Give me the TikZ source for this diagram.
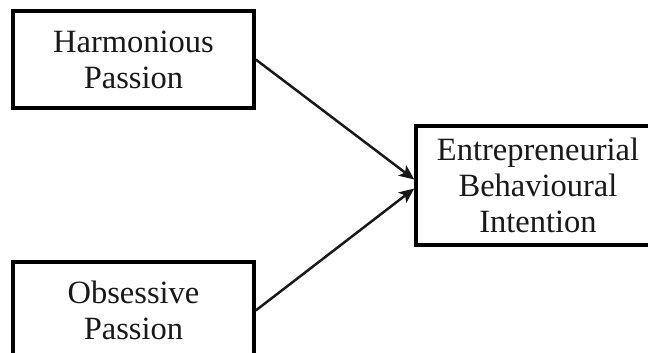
\documentclass[tikz,border=0pt]{standalone}
\usepackage{fontspec}
\setmainfont{Liberation Serif}
\usetikzlibrary{arrows.meta,calc}
\begin{document}
\begin{tikzpicture}[x=1pt,y=-1pt,
 box/.style={draw=black, line width=3.5pt, rectangle, inner sep=0pt, align=center, font=\fontsize{32.5}{36}\selectfont, text=black!90},
 link/.style={line width=2.5pt, draw=black!90, -{Stealth[length=15pt,width=13pt,inset=3.5pt]}}]
\clip (0,0) rectangle (648,353);
\node[box, minimum width=241pt, minimum height=97pt] (hp) at (133.5,59.5) {Harmonious\\Passion};
\node[box, minimum width=241pt, minimum height=97pt] (op) at (133.5,310.5) {Obsessive\\Passion};
\node[box, minimum width=244pt, minimum height=119pt] (ep) at (538,185.5) {Entrepreneurial\\Behavioural\\Intention};
\coordinate (e1) at ($(ep.west)+(0,-6)$);
\coordinate (e2) at ($(ep.west)+(0,3)$);
\draw[link] (hp.east) -- (e1);
\draw[link] (op.east) -- (e2);
\end{tikzpicture}
\end{document}
